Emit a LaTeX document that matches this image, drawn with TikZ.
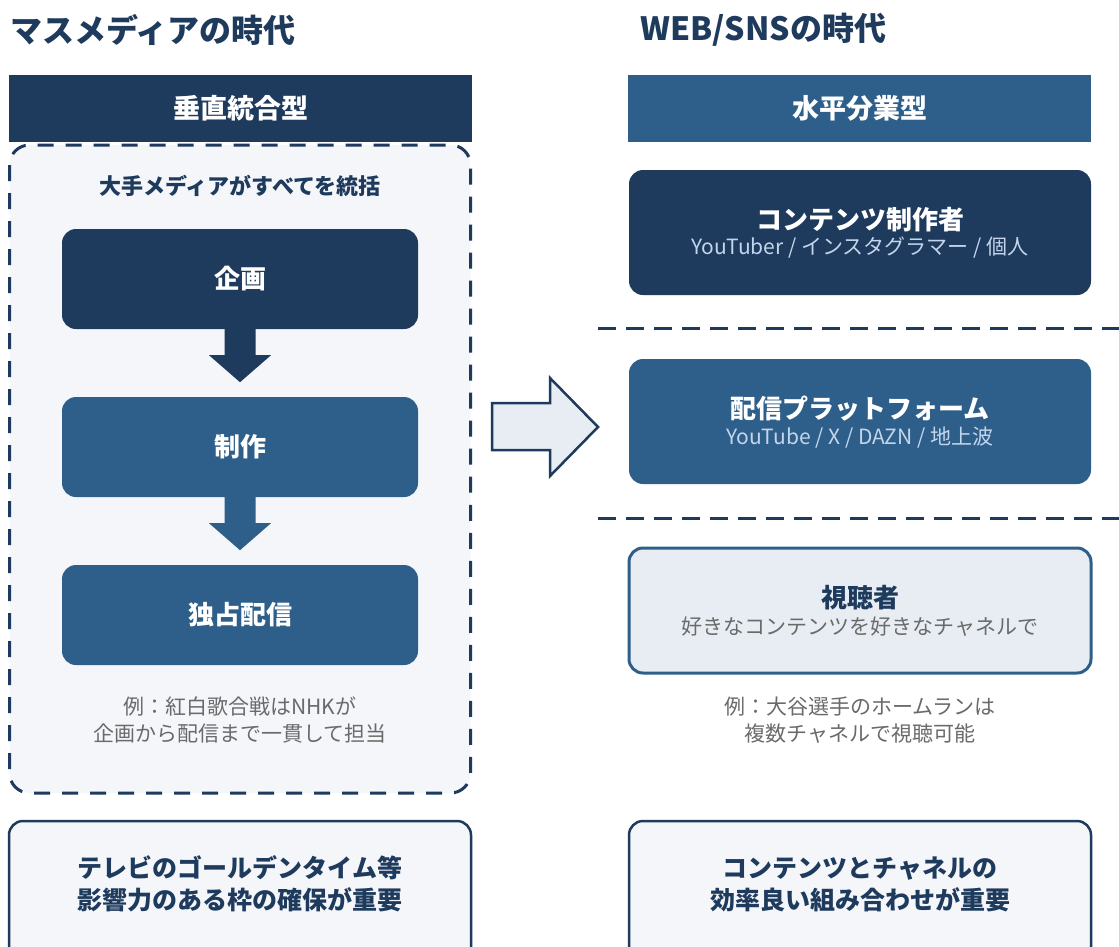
\documentclass[tikz,border=0pt]{standalone}
\usepackage{fontspec}
\setmainfont{Noto Sans CJK JP}
\usetikzlibrary{calc}
\definecolor{navy}{HTML}{1E3A5C}
\definecolor{midblue}{HTML}{2E5F8A}
\definecolor{paleback}{HTML}{F4F6FA}
\definecolor{palefill}{HTML}{E8EDF4}
\definecolor{subblue}{HTML}{C3D5EC}
\definecolor{greytext}{HTML}{6A6A6A}
\tikzset{
  headline/.style={inner sep=0pt, anchor=west, text=navy, font=\bfseries\fontsize{32}{36}\selectfont},
  headbar/.style={rectangle, inner sep=0pt, minimum width=463pt, minimum height=67pt, text=white, font=\bfseries\fontsize{27}{30}\selectfont},
  flowbox/.style={rectangle, rounded corners=14pt, inner sep=0pt, minimum width=356pt, minimum height=100pt, text=white, font=\bfseries\fontsize{26}{30}\selectfont},
  layerbox/.style={rectangle, rounded corners=14pt, inner sep=0pt, minimum width=462pt, minimum height=125pt},
  boxtitle/.style={inner sep=0pt, font=\bfseries\fontsize{26}{30}\selectfont},
  boxsub/.style={inner sep=0pt, font=\fontsize{21}{24}\selectfont},
  note/.style={inner sep=0pt, align=center, text=greytext, font=\fontsize{21}{26.5}\selectfont},
  summarybox/.style={rectangle, rounded corners=14pt, inner sep=0pt, minimum width=462pt, minimum height=140pt, fill=paleback, draw=navy, line width=2.5pt},
  summarytext/.style={inner sep=0pt, align=center, text=navy, font=\bfseries\fontsize{25}{32}\selectfont},
  separator/.style={draw=navy, line width=3pt, dash pattern=on 18pt off 10pt}
}
\begin{document}
\begin{tikzpicture}[x=1pt, y=-1pt]
\clip (0,0) rectangle (1119,946);
\fill[white] (0,0) rectangle (1119,946);

% titles
\node[headline] (lefttitle) at (10,30) {マスメディアの時代};
\node[headline] (righttitle) at (640,30) {WEB/SNSの時代};

% left dashed container
\draw[fill=paleback, draw=navy, line width=3pt, dash pattern=on 16pt off 12pt, rounded corners=20pt] (9.5,145) rectangle (470.5,793);

% headers
\node[headbar, fill=navy] (lefthead) at (240.5,108.5) {垂直統合型};
\node[headbar, fill=midblue] (righthead) at (859.5,108.5) {水平分業型};

\node[inner sep=0pt, text=navy, font=\bfseries\fontsize{22}{24}\selectfont] (allctrl) at (240,186) {大手メディアがすべてを統括};

% flow
\node[flowbox, fill=navy] (plan) at (240,279) {企画};
\node[flowbox, fill=midblue] (prod) at (240,447) {制作};
\node[flowbox, fill=midblue] (excl) at (240,615) {独占配信};

\fill[navy] (plan.south) ++(-15.5,0) -- ++(31,0) -- ++(0,26) -- ++(15.5,0) -- ++(-31,27) -- ++(-31,-27) -- ++(15.5,0) -- cycle;
\fill[midblue] (prod.south) ++(-15.5,0) -- ++(31,0) -- ++(0,26) -- ++(15.5,0) -- ++(-31,27) -- ++(-31,-27) -- ++(15.5,0) -- cycle;

\node[note] (leftnote) at (240,720) {例：紅白歌合戦はNHKが\\企画から配信まで一貫して担当};

% big arrow
\draw[fill=palefill, draw=navy, line width=2.5pt, line join=miter] (492,403) -- (550,403) -- (550,378) -- (598,427) -- (550,476) -- (550,450) -- (492,450) -- cycle;

% right layers
\node[layerbox, fill=navy] (creator) at (860,232.5) {};
\node[boxtitle, text=white] (creatort) at (860,220) {コンテンツ制作者};
\node[boxsub, text=subblue] (creators) at (860,248) {YouTuber / インスタグラマー / 個人};

\draw[separator] (598,328) -- (1119,328);

\node[layerbox, fill=midblue] (platform) at (860,421.5) {};
\node[boxtitle, text=white] (platformt) at (860,409) {配信プラットフォーム};
\node[boxsub, text=subblue] (platforms) at (860,438) {YouTube / X / DAZN / 地上波};

\draw[separator] (598,518) -- (1119,518);

\node[layerbox, fill=palefill, draw=midblue, line width=3pt] (viewer) at (860,610.5) {};
\node[boxtitle, text=navy] (viewert) at (860,598) {視聴者};
\node[boxsub, text=greytext] (viewers) at (860,627) {好きなコンテンツを好きなチャネルで};

\node[note] (rightnote) at (860,720) {例：大谷選手のホームランは\\複数チャネルで視聴可能};

% summaries
\node[summarybox] (leftsum) at (240,891) {};
\node[summarytext] (leftsumt) at (240,884) {テレビのゴールデンタイム等\\影響力のある枠の確保が重要};
\node[summarybox] (rightsum) at (860,891) {};
\node[summarytext] (rightsumt) at (860,884) {コンテンツとチャネルの\\効率良い組み合わせが重要};
\end{tikzpicture}
\end{document}
